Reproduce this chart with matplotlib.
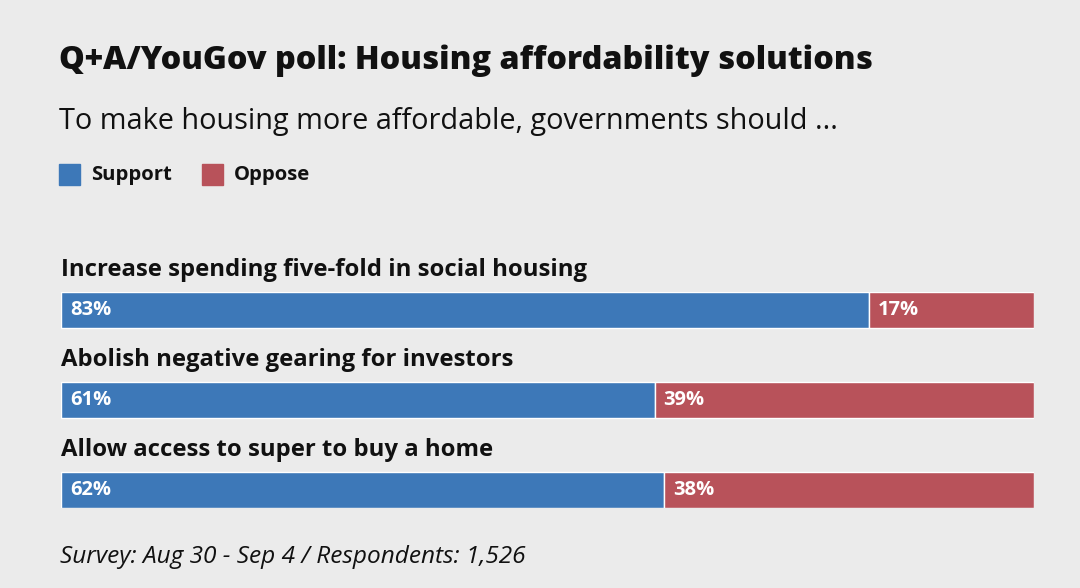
import matplotlib.pyplot as plt
from matplotlib.patches import Rectangle

categories = ["Increase spending five-fold in social housing",
              "Abolish negative gearing for investors",
              "Allow access to super to buy a home"]
support = [83, 61, 62]
oppose = [17, 39, 38]

BG = "#ebebeb"
BLUE = "#3d78b8"
RED = "#b8525a"

plt.rcParams['font.family'] = ['Open Sans', 'DejaVu Sans']

fig = plt.figure(figsize=(10.8, 5.88), dpi=100, facecolor=BG)
ax = fig.add_axes([61 / 1080, 1 - 508 / 588, 973 / 1080, 216 / 588])
ax.set_facecolor(BG)

y = list(range(len(categories)))
ax.barh(y, support, height=0.4, color=BLUE, edgecolor="white", linewidth=1)
ax.barh(y, oppose, left=support, height=0.4, color=RED, edgecolor="white", linewidth=1)

for i, (cat, s, o) in enumerate(zip(categories, support, oppose)):
    ax.text(0, i - 0.445, cat, ha="left", va="center", fontsize=17.2,
            fontweight="bold", color="#111111", clip_on=False)
    ax.text(0.9, i, f"{s}%", ha="left", va="center", fontsize=14.5,
            fontweight="bold", color="white")
    ax.text(s + 0.9, i, f"{o}%", ha="left", va="center", fontsize=14.5,
            fontweight="bold", color="white")

ax.set_xlim(0, 100)
ax.set_ylim(2.2, -0.2)
ax.axis("off")

fig.text(59 / 1080, 1 - 61 / 588, "Q+A/YouGov poll: Housing affordability solutions",
         fontsize=23.3, fontweight="heavy", va="center", ha="left", color="#111111")
fig.text(59 / 1080, 1 - 122 / 588, "To make housing more affordable, governments should ...",
         fontsize=20.8, va="center", ha="left", color="#111111")

# legend
for lx, lab, col in [(59, "Support", BLUE), (202, "Oppose", RED)]:
    fig.patches.append(Rectangle((lx / 1080, 1 - 185 / 588), 21 / 1080, 21 / 588,
                                 transform=fig.transFigure, color=col))
    fig.text((lx + 32) / 1080, 1 - 175 / 588, lab, fontsize=14.6, fontweight="bold",
             va="center", ha="left", color="#111111")

fig.text(60 / 1080, 1 - 557 / 588, "Survey: Aug 30 - Sep 4 / Respondents: 1,526",
         fontsize=17.6, style="italic", va="center", ha="left", color="#111111")

fig.savefig("out.png", dpi=100, facecolor=BG)
